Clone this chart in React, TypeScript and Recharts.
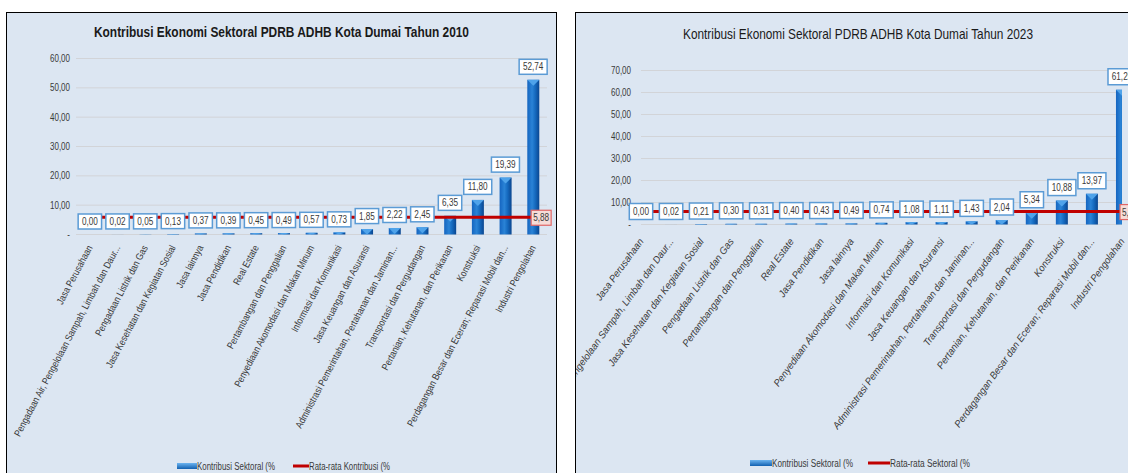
import React from "react";
import {
  ComposedChart,
  Bar,
  Line,
  XAxis,
  YAxis,
  CartesianGrid,
  LabelList
} from "recharts";

// 2010 data, ordered as in the chart
const sectors2010 = [
  "Jasa Perusahaan",
  "Pengadaan Air, Pengelolaan Sampah, Limbah dan Daur...",
  "Pengadaan Listrik dan Gas",
  "Jasa Kesehatan dan Kegiatan Sosial",
  "Jasa lainnya",
  "Jasa Pendidikan",
  "Real Estate",
  "Pertambangan dan Penggalian",
  "Penyediaan Akomodasi dan Makan Minum",
  "Informasi dan Komunikasi",
  "Jasa Keuangan dan Asuransi",
  "Administrasi Pemerintahan, Pertahanan dan Jaminan...",
  "Transportasi dan Pergudangan",
  "Pertanian, Kehutanan, dan Perikanan",
  "Konstruksi",
  "Perdagangan Besar dan Eceran; Reparasi Mobil dan...",
  "Industri Pengolahan"
];
const share2010 = [
  0.0, 0.02, 0.05, 0.13, 0.37, 0.39, 0.45, 0.49, 0.57, 0.73, 1.85, 2.22, 2.45,
  6.35, 11.8, 19.39, 52.74
];
const average2010 = 5.88;
const yTicks2010 = [0, 10, 20, 30, 40, 50, 60];

// 2023 data
const sectors2023 = [
  "Jasa Perusahaan",
  "Pengadaan Air, Pengelolaan Sampah, Limbah dan Daur...",
  "Jasa Kesehatan dan Kegiatan Sosial",
  "Pengadaan Listrik dan Gas",
  "Pertambangan dan Penggalian",
  "Real Estate",
  "Jasa Pendidikan",
  "Jasa lainnya",
  "Penyediaan Akomodasi dan Makan Minum",
  "Informasi dan Komunikasi",
  "Jasa Keuangan dan Asuransi",
  "Administrasi Pemerintahan, Pertahanan dan Jaminan...",
  "Transportasi dan Pergudangan",
  "Pertanian, Kehutanan, dan Perikanan",
  "Konstruksi",
  "Perdagangan Besar dan Eceran; Reparasi Mobil dan...",
  "Industri Pengolahan"
];
const share2023 = [
  0.0, 0.02, 0.21, 0.3, 0.31, 0.4, 0.43, 0.49, 0.74, 1.08, 1.11, 1.43, 2.04,
  5.34, 10.88, 13.97, 61.25
];
const average2023 = 5.88;
const yTicks2023 = [0, 10, 20, 30, 40, 50, 60, 70];

const BG = "#dce6f2";
const SANS = "'Liberation Sans', Arial, sans-serif";
const TEXT = "#3a3a3a";

const fmt = (v: number) => v.toFixed(2).replace(".", ",");

// squeezed text, a stand-in for Arial Narrow
function Narrow(props: {
  x: number;
  y: number;
  size: number;
  sx?: number;
  rotate?: number;
  anchor?: "start" | "middle" | "end";
  italic?: boolean;
  children: React.ReactNode;
}) {
  const { x, y, size, sx = 0.82, rotate = 0, anchor = "start" } = props;
  return (
    <text
      x={0}
      y={0}
      transform={`translate(${x},${y}) rotate(${rotate}) scale(${sx},1)`}
      textAnchor={anchor}
      fontFamily={SANS}
      fontSize={size}
      fontStyle={props.italic ? "italic" : "normal"}
      fill={TEXT}
    >
      {props.children}
    </text>
  );
}

type PanelProps = {
  id: string;
  left: number;
  width: number;
  title: string;
  titleBold: boolean;
  titleLen: number;
  titleY: number;
  sectors: string[];
  values: number[];
  average: number;
  yTicks: number[];
  xDomain: [number, number];
  plotTop: number;
  plotBottom: number;
  yWidth: number;
  tickGap: number;
  marginRight: number;
  angle: number;
  labelDx: number;
  labelDy: number;
  labelSx: number;
  labelItalic: boolean;
  boxH: number;
  boxLift: number;
  legendY: number;
  legendX: [number, number, number, number];
  legendLen: [number, number];
  legendBar: string;
  legendLine: string;
};

function Panel(p: PanelProps) {
  const rows = p.sectors.map((name, i) => ({
    idx: i,
    name,
    value: p.values[i],
    avg: p.average
  }));
  const indices = p.sectors.map((_, i) => i);
  const inner = p.width - 2;
  const chartH = 459;
  const last = rows.length - 1;

  const barShape = (props: any) => {
    const { x, y, width, height } = props;
    if (!height || height <= 0) return <g />;
    const cap = Math.min(6, height);
    return (
      <g>
        <rect x={x} y={y} width={width} height={height} fill={`url(#bar-${p.id})`} />
        <polygon
          points={`${x},${y} ${x + width},${y} ${x + width / 2},${y + cap}`}
          fill="#4fa3ea"
        />
      </g>
    );
  };

  const valueBox = (props: any) => {
    const { x, y, value } = props;
    if (x == null || y == null) return null;
    const s = fmt(Number(value));
    const w = s.length * 4.6 + 5;
    const cy = y - p.boxLift;
    return (
      <g>
        <rect
          x={x - w / 2}
          y={cy - p.boxH / 2}
          width={w}
          height={p.boxH}
          fill="#ffffff"
          stroke="#5b9bd5"
          strokeWidth={1.5}
        />
        <Narrow x={x} y={cy + 3.5} size={10} anchor="middle">
          {s}
        </Narrow>
      </g>
    );
  };

  const avgBox = (props: any) => {
    const { x, y, value, index } = props;
    if (index !== last) return null;
    const s = fmt(Number(value));
    const w = 20;
    const cx = x + 8;
    return (
      <g>
        <rect
          x={cx - w / 2}
          y={y - 7}
          width={w}
          height={15}
          fill="#f6dcd8"
          stroke="#e06666"
          strokeWidth={1.2}
        />
        <Narrow x={cx} y={y + 4} size={10} anchor="middle">
          {s}
        </Narrow>
      </g>
    );
  };

  const xTick = (props: any) => {
    const { x, y, payload } = props;
    return (
      <Narrow
        x={x + p.labelDx}
        y={y + p.labelDy}
        size={10}
        sx={p.labelSx}
        rotate={p.angle}
        anchor="end"
        italic={p.labelItalic}
      >
        {p.sectors[payload.value]}
      </Narrow>
    );
  };

  const yTick = (props: any) => {
    const { x, y, payload } = props;
    const v = Number(payload.value);
    return (
      <Narrow x={x} y={y + 3.5} size={10} sx={0.8} anchor="end">
        {v === 0 ? "-" : fmt(v)}
      </Narrow>
    );
  };

  const [sw, tx1, ln, tx2] = p.legendX;

  return (
    <div
      style={{
        position: "absolute",
        left: p.left,
        top: 12,
        width: p.width,
        height: 470,
        border: "1px solid #000",
        boxSizing: "border-box",
        background: BG,
        overflow: "hidden"
      }}
    >
      <ComposedChart
        width={inner}
        height={chartH}
        data={rows}
        margin={{ top: p.plotTop, right: p.marginRight, bottom: 0, left: 0 }}
      >
        <defs>
          <linearGradient id={`bar-${p.id}`} x1="0" y1="0" x2="1" y2="0">
            <stop offset="0%" stopColor="#1565c0" />
            <stop offset="40%" stopColor="#2a83d6" />
            <stop offset="65%" stopColor="#166bc0" />
            <stop offset="100%" stopColor="#0a4690" />
          </linearGradient>
        </defs>
        <CartesianGrid vertical={false} stroke="#d2d4d8" strokeWidth={1} />
        <XAxis
          type="number"
          dataKey="idx"
          domain={p.xDomain}
          ticks={indices}
          interval={0}
          allowDataOverflow
          height={chartH - p.plotBottom}
          axisLine={false}
          tickLine={false}
          tickSize={0}
          tickMargin={0}
          tick={xTick}
        />
        <YAxis
          domain={[0, p.yTicks[p.yTicks.length - 1]]}
          ticks={p.yTicks}
          interval={0}
          width={p.yWidth}
          axisLine={false}
          tickLine={false}
          tickSize={0}
          tickMargin={p.tickGap}
          tick={yTick}
        />
        <Bar
          dataKey="value"
          barSize={12}
          shape={barShape}
          isAnimationActive={false}
        />
        <Line
          dataKey="avg"
          stroke="#c00000"
          strokeWidth={3}
          dot={false}
          activeDot={false}
          isAnimationActive={false}
        >
          <LabelList dataKey="avg" content={avgBox} />
        </Line>
        <Line
          dataKey="value"
          stroke="none"
          dot={false}
          activeDot={false}
          isAnimationActive={false}
        >
          <LabelList dataKey="value" content={valueBox} />
        </Line>
      </ComposedChart>
      <svg
        width={inner}
        height={chartH}
        style={{ position: "absolute", left: 0, top: 0, pointerEvents: "none" }}
      >
        <defs>
          <linearGradient id={`leg-${p.id}`} x1="0" y1="0" x2="0" y2="1">
            <stop offset="0%" stopColor="#6cb4f0" />
            <stop offset="100%" stopColor="#1260b0" />
          </linearGradient>
        </defs>
        <text
          x={inner / 2}
          y={p.titleY}
          textAnchor="middle"
          textLength={p.titleLen}
          lengthAdjust="spacingAndGlyphs"
          fontFamily={SANS}
          fontSize={15}
          fontWeight={p.titleBold ? "bold" : "normal"}
          fill="#1a1a1a"
        >
          {p.title}
        </text>
        <rect x={sw} y={p.legendY - 3} width={tx1 - sw} height={6} fill={`url(#leg-${p.id})`} />
        <text
          x={tx1}
          y={p.legendY + 3.5}
          textLength={p.legendLen[0]}
          lengthAdjust="spacingAndGlyphs"
          fontFamily={SANS}
          fontSize={10}
          fill={TEXT}
        >
          {p.legendBar}
        </text>
        <rect x={ln} y={p.legendY - 1.5} width={tx2 - ln} height={3} fill="#c00000" />
        <text
          x={tx2}
          y={p.legendY + 3.5}
          textLength={p.legendLen[1]}
          lengthAdjust="spacingAndGlyphs"
          fontFamily={SANS}
          fontSize={10}
          fill={TEXT}
        >
          {p.legendLine}
        </text>
      </svg>
    </div>
  );
}

export default function App() {
  return (
    <div
      style={{
        position: "fixed",
        left: 0,
        top: 0,
        width: 1128,
        height: 473,
        overflow: "hidden",
        background: "#ffffff"
      }}
    >
      <Panel
        id="a"
        left={6}
        width={551}
        title="Kontribusi Ekonomi Sektoral PDRB ADHB Kota Dumai Tahun 2010"
        titleBold={true}
        titleLen={375}
        titleY={24}
        sectors={sectors2010}
        values={share2010}
        average={average2010}
        yTicks={yTicks2010}
        xDomain={[-0.5, 16.5]}
        plotTop={45.5}
        plotBottom={221.5}
        yWidth={69}
        tickGap={6}
        marginRight={9}
        angle={-62}
        labelDx={3}
        labelDy={13}
        labelSx={0.84}
        labelItalic={false}
        boxH={15}
        boxLift={13}
        legendY={453}
        legendX={[170, 190, 286, 302]}
        legendLen={[78, 81]}
        legendBar="Kontribusi Sektoral (%"
        legendLine="Rata-rata Kontribusi (%"
      />
      <Panel
        id="b"
        left={575}
        width={566}
        title="Kontribusi Ekonomi Sektoral PDRB ADHB Kota Dumai Tahun 2023"
        titleBold={false}
        titleLen={350}
        titleY={26}
        sectors={sectors2023}
        values={share2023}
        average={average2023}
        yTicks={yTicks2023}
        xDomain={[0, 16]}
        plotTop={57.5}
        plotBottom={211.5}
        yWidth={65}
        tickGap={10}
        marginRight={18}
        angle={-54}
        labelDx={3}
        labelDy={17}
        labelSx={0.95}
        labelItalic={true}
        boxH={16}
        boxLift={13}
        legendY={450}
        legendX={[174, 196, 292, 314]}
        legendLen={[81, 80]}
        legendBar="Kontribusi Sektoral (%"
        legendLine="Rata-rata Sektoral (%"
      />
    </div>
  );
}
